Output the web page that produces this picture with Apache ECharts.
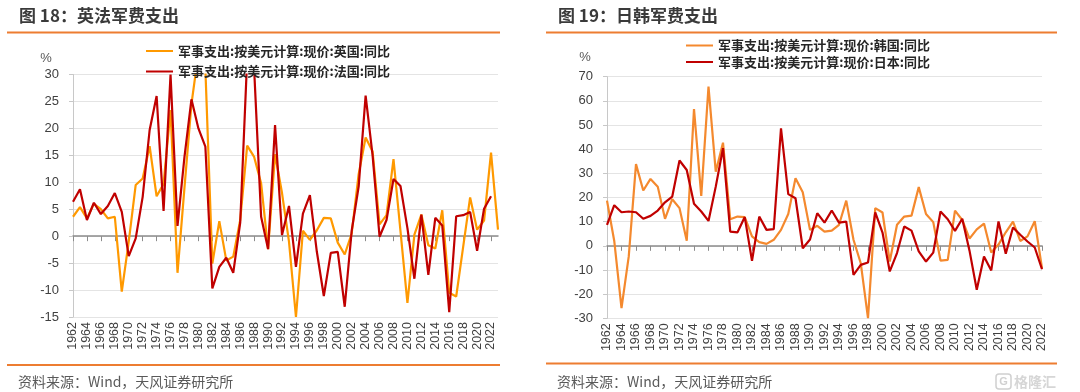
<!DOCTYPE html>
<html>
<head>
<meta charset="utf-8">
<script src="https://cdn.jsdelivr.net/npm/echarts@6/dist/echarts.min.js"></script>
<style>
html,body{margin:0;padding:0;background:#fff;}
#c{width:1080px;height:392px;}
</style>
</head>
<body>
<div id="c"></div>
<script>
// ---- data ----
const yearsLeft = ['1962','1963','1964','1965','1966','1967','1968','1969','1970','1971','1972','1973','1974','1975','1976','1977','1978','1979','1980','1981','1982','1983','1984','1985','1986','1987','1988','1989','1990','1991','1992','1993','1994','1995','1996','1997','1998','1999','2000','2001','2002','2003','2004','2005','2006','2007','2008','2009','2010','2011','2012','2013','2014','2015','2016','2017','2018','2019','2020','2021','2022','2023'];
const yearsRight = ['1962','1963','1964','1965','1966','1967','1968','1969','1970','1971','1972','1973','1974','1975','1976','1977','1978','1979','1980','1981','1982','1983','1984','1985','1986','1987','1988','1989','1990','1991','1992','1993','1994','1995','1996','1997','1998','1999','2000','2001','2002','2003','2004','2005','2006','2007','2008','2009','2010','2011','2012','2013','2014','2015','2016','2017','2018','2019','2020','2021','2022'];

const ukYoY = [3.6,5.4,3.3,6.0,5.0,3.3,3.6,-10.3,-1.0,9.5,10.7,16.7,7.4,9.7,23.4,-6.8,9.0,24.5,34,31,-5.1,2.8,-4.5,-3.8,3.0,16.8,14.7,9.8,-2.4,15.2,8.0,-1.0,-15.0,1.0,-0.7,1.1,3.4,3.3,-1.2,-3.4,0.5,11.5,18.3,15.7,2.2,3.9,14.3,1.0,-12.4,0.3,4.0,-1.7,-2.3,4.8,-10.5,-11.2,-2.0,7.2,1.2,2.9,15.5,1.2];
const frYoY = [6.4,8.7,3.0,6.2,4.1,5.6,8.0,4.5,-3.7,-0.4,7.3,19.7,26.0,4.7,30.0,1.9,14.7,25.4,20.0,16.6,-9.7,-5.7,-4.0,-6.8,2.5,33,31,3.6,-2.4,20.6,0.2,5.6,-5.7,4.2,7.6,-2.9,-11.1,-3.1,-2.9,-13.1,1.0,9.2,26.1,15.0,-0.1,3.0,10.6,9.3,1.5,-7.9,4.0,-7.2,3.4,2.0,-14.1,3.7,3.9,4.5,-2.7,5.1,7.4,null];
const krYoY = [18.7,2.0,-25.8,-4.4,33.8,22.9,27.7,24.5,11.2,19.3,15.6,2.1,56.6,20.7,65.9,30.7,42.7,11.0,12.1,11.9,3.9,1.5,0.8,2.5,6.6,13.2,28.0,22.2,6.6,8.3,5.9,6.3,8.7,18.7,2.5,-7.2,-29.9,15.6,13.8,-6.5,8.7,12.1,12.5,24.3,13.2,9.8,-6.1,-5.8,14.6,10.7,3.0,6.8,9.2,-2.8,0.5,5.6,10.0,2.0,3.9,10.2,-9.2];
const jpYoY = [8.7,16.8,13.9,14.2,13.9,11.2,12.4,14.6,18.0,20.4,35.3,31.4,17.4,14.2,10.3,24.5,40.4,5.9,5.6,11.9,-6.2,12.1,6.6,6.9,48.6,21.4,19.7,-1.0,2.6,13.5,9.6,14.6,9.6,10.0,-12.0,-7.9,-6.9,13.8,5.5,-10.6,-3.0,8.0,6.3,-2.3,-6.5,-2.8,14.2,11.0,6.2,11.2,-2.0,-18.2,-4.4,-10.2,10.1,-3.3,7.6,4.6,1.8,-0.7,-9.7];

const nameUK = '军事支出:按美元计算:现价:英国:同比';
const nameFR = '军事支出:按美元计算:现价:法国:同比';
const nameKR = '军事支出:按美元计算:现价:韩国:同比';
const nameJP = '军事支出:按美元计算:现价:日本:同比';

// ---- styles ----
const NUM_FONT = '"Liberation Sans", Arial, "Noto Sans CJK SC", sans-serif';
const CJK_FONT = '"Noto Sans CJK SC", "Liberation Sans", sans-serif';
const labelColor = '#404040';
const accent = '#ED7D31';

function labelAxis(gridIndex, data) {
  return {
    gridIndex, type: 'category', data, boundaryGap: false, position: 'bottom',
    axisLine: { show: false, onZero: false },
    axisTick: { show: false },
    splitLine: { show: false },
    axisLabel: { interval: 1, rotate: 90, fontSize: 12.5, color: labelColor, margin: 5, fontFamily: NUM_FONT }
  };
}
function zeroAxis(gridIndex, data) {
  return {
    gridIndex, type: 'category', data, boundaryGap: false, position: 'top',
    axisLine: { show: true, onZero: true, lineStyle: { color: '#8c8c8c', width: 1.5 } },
    axisTick: { show: true, interval: 1, inside: true, length: 5, lineStyle: { color: '#8c8c8c', width: 1 } },
    axisLabel: { show: false },
    splitLine: { show: false }
  };
}
function valAxis(gridIndex, min, max, interval) {
  return {
    gridIndex, type: 'value', min, max, interval,
    axisLine: { show: true, lineStyle: { color: '#c8c8c8', width: 1 } },
    axisTick: { show: true, length: 4, lineStyle: { color: '#c8c8c8' } },
    axisLabel: { fontSize: 13, color: labelColor, margin: 14, fontFamily: NUM_FONT },
    splitLine: { show: true, lineStyle: { color: '#e4e4e4', width: 1 } }
  };
}
function lineSeries(name, data, color, xi, yi) {
  return {
    name, type: 'line', data, xAxisIndex: xi, yAxisIndex: yi,
    symbol: 'none', smooth: false, connectNulls: false,
    lineStyle: { color, width: 2.2 }, itemStyle: { color },
    emphasis: { disabled: true }
  };
}
function legendOne(name, left, top) {
  return {
    data: [name], left, top, padding: 0, orient: 'horizontal', icon: 'rect', itemWidth: 27, itemHeight: 2,
    selectedMode: false,
    textStyle: { fontSize: 13, fontWeight: 'bold', color: '#262626', fontFamily: CJK_FONT, lineHeight: 16 }
  };
}

const option = {
  animation: false,
  backgroundColor: '#ffffff',
  grid: [
    { left: 73, top: 74.5, width: 425, height: 242.5, containLabel: false },
    { left: 607, top: 76.7, width: 435, height: 241.6, containLabel: false }
  ],
  xAxis: [labelAxis(0, yearsLeft), zeroAxis(0, yearsLeft), labelAxis(1, yearsRight), zeroAxis(1, yearsRight)],
  yAxis: [valAxis(0, -15, 30, 5), valAxis(1, -30, 70, 10)],
  legend: [
    legendOne(nameUK, 146, 43),
    legendOne(nameFR, 146, 63.5),
    legendOne(nameKR, 686, 37.5),
    legendOne(nameJP, 686, 54)
  ],
  series: [
    lineSeries(nameUK, ukYoY, '#FF9900', 0, 0),
    lineSeries(nameFR, frYoY, '#C00000', 0, 0),
    lineSeries(nameKR, krYoY, '#F4892E', 2, 1),
    lineSeries(nameJP, jpYoY, '#C00000', 2, 1)
  ],
  graphic: [
    { type: 'text', left: 19, top: 7, style: { text: '图 18：英法军费支出', font: 'bold 17px ' + CJK_FONT, fill: '#3a3a3a' } },
    { type: 'text', left: 558, top: 7, style: { text: '图 19：日韩军费支出', font: 'bold 17px ' + CJK_FONT, fill: '#3a3a3a' } },
    { type: 'line', shape: { x1: 7, y1: 32.5, x2: 500, y2: 32.5 }, style: { stroke: accent, lineWidth: 2 } },
    { type: 'line', shape: { x1: 546, y1: 32.5, x2: 1057, y2: 32.5 }, style: { stroke: accent, lineWidth: 2 } },
    { type: 'line', shape: { x1: 7, y1: 365, x2: 500, y2: 365 }, style: { stroke: accent, lineWidth: 2 } },
    { type: 'line', shape: { x1: 546, y1: 363.5, x2: 1057, y2: 363.5 }, style: { stroke: accent, lineWidth: 2 } },
    { type: 'text', x: 46, y: 58, style: { text: '%', font: '13px ' + NUM_FONT, fill: '#595959', textAlign: 'center', textVerticalAlign: 'middle' } },
    { type: 'text', x: 585, y: 57, style: { text: '%', font: '13px ' + NUM_FONT, fill: '#595959', textAlign: 'center', textVerticalAlign: 'middle' } },
    { type: 'text', x: 18, y: 382, style: { text: '资料来源：Wind，天风证券研究所', font: '14px ' + CJK_FONT, fill: '#595959', textVerticalAlign: 'middle' } },
    { type: 'text', x: 557, y: 382, style: { text: '资料来源：Wind，天风证券研究所', font: '14px ' + CJK_FONT, fill: '#595959', textVerticalAlign: 'middle' } },
    { type: 'rect', shape: { x: 996, y: 374, width: 15, height: 15, r: 3 }, style: { fill: 'none', stroke: '#d0d0d0', lineWidth: 1.5 } },
    { type: 'text', x: 1003.5, y: 382, style: { text: 'G', font: 'bold 11px ' + NUM_FONT, fill: '#d0d0d0', textAlign: 'center', textVerticalAlign: 'middle' } },
    { type: 'text', x: 1014, y: 382, style: { text: '格隆汇', font: 'bold 14px ' + CJK_FONT, fill: '#d6d6d6', textVerticalAlign: 'middle' } }
  ]
};

const chart = echarts.init(document.getElementById('c'));
chart.setOption(option);
</script>
</body>
</html>
